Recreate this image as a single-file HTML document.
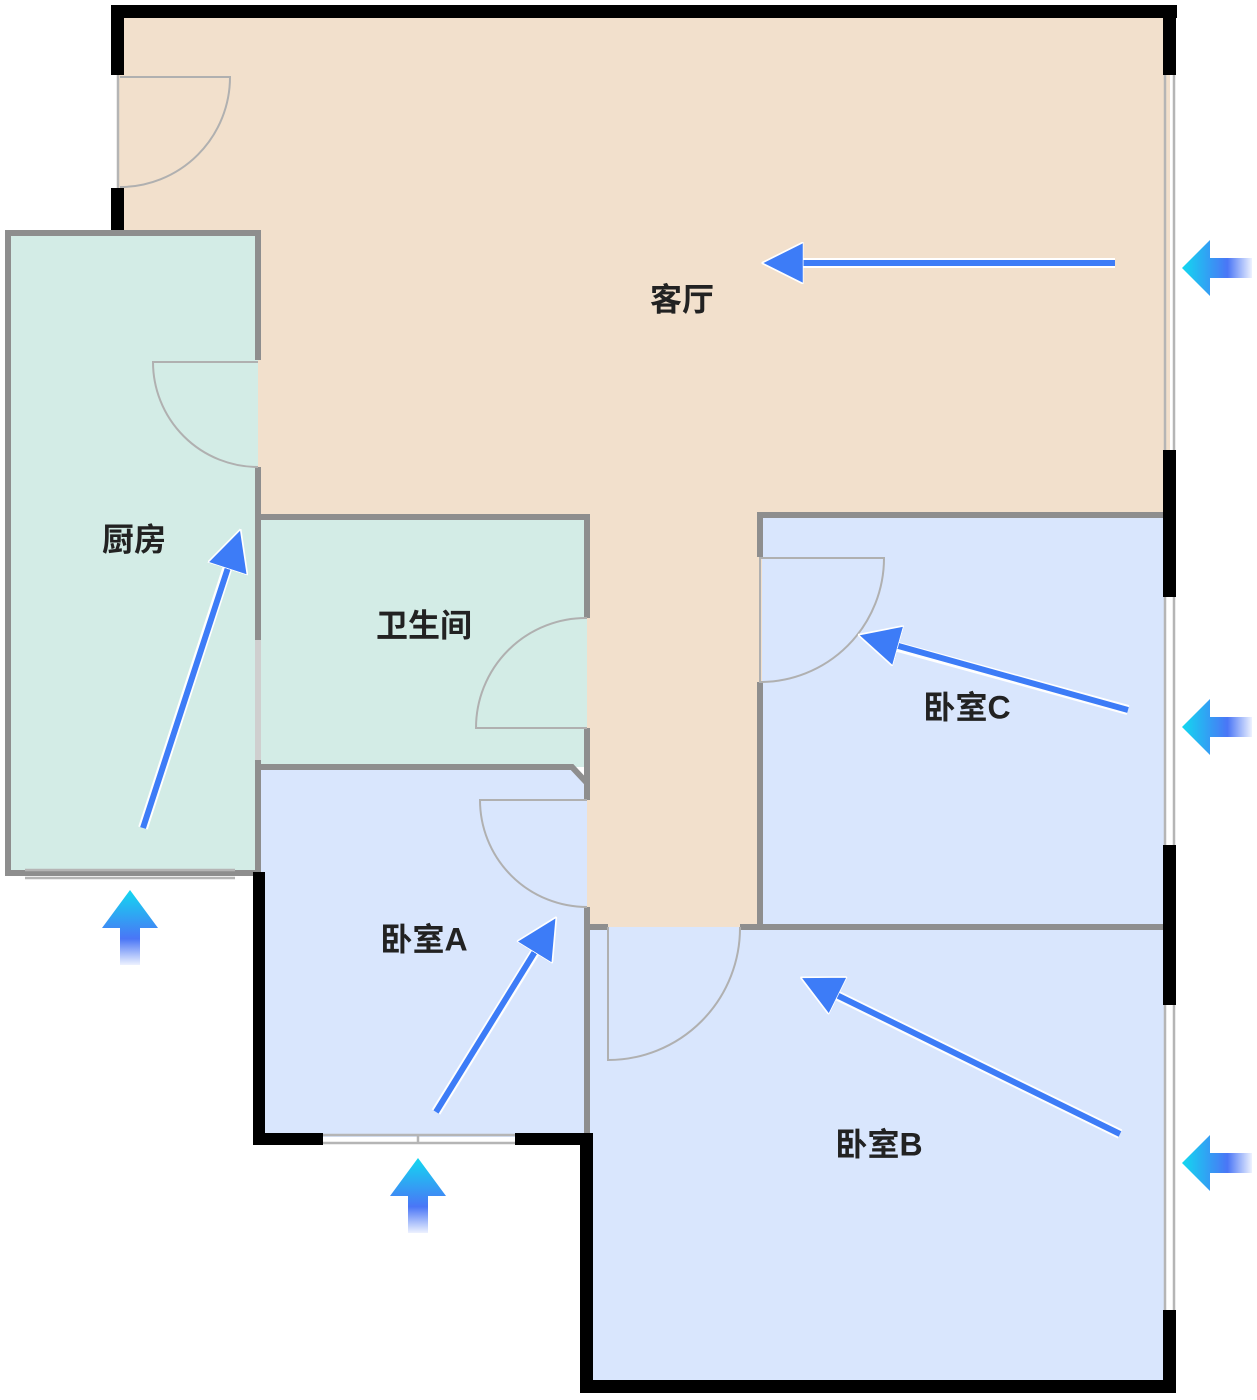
<!DOCTYPE html>
<html><head><meta charset="utf-8"><style>
html,body{margin:0;padding:0;background:#fff}
svg{display:block}
text{font-family:"Liberation Sans","Noto Sans CJK SC",sans-serif;font-size:32px;font-weight:600;fill:#222;text-anchor:middle;dominant-baseline:middle}
</style></head><body>
<svg width="1257" height="1400" viewBox="0 0 1257 1400" xmlns="http://www.w3.org/2000/svg">
<defs>
<linearGradient id="gh" x1="0" y1="0" x2="1" y2="0"><stop offset="0" stop-color="#12d8f0"/><stop offset="0.65" stop-color="#4a76f6"/><stop offset="1" stop-color="#4a76f6" stop-opacity="0.1"/></linearGradient>
<linearGradient id="gv" x1="0" y1="0" x2="0" y2="1"><stop offset="0" stop-color="#12d8f0"/><stop offset="0.65" stop-color="#4a76f6"/><stop offset="1" stop-color="#4a76f6" stop-opacity="0.1"/></linearGradient>
<marker id="ah" viewBox="0 0 10 10" refX="8" refY="5" markerWidth="7" markerHeight="7" orient="auto-start-reverse" markerUnits="strokeWidth"><path d="M0,0 L10,5 L0,10 Z" fill="#3d7cf7" stroke="#fff" stroke-width="0.4"/></marker>
<g id="hA"><path d="M0,28 L28,0 L28,18 L70,18 L70,38 L28,38 L28,56 Z" fill="url(#gh)"/></g>
</defs>
<rect x="117" y="12" width="1053" height="505" fill="#f2e0cc"/>
<rect x="585" y="515" width="177" height="412" fill="#f2e0cc"/>
<rect x="10" y="233" width="248" height="640" fill="#d3ece6"/>
<rect x="260" y="517" width="327" height="250" fill="#d3ece6"/>
<polygon points="260,767 572,767 587,783 587,1137 260,1137" fill="#d9e6fd"/>
<rect x="762" y="517" width="403" height="410" fill="#d9e6fd"/>
<rect x="587" y="927" width="578" height="458" fill="#d9e6fd"/>
<g stroke="#8e8e8e" stroke-width="6" fill="none">
<path d="M258,360 V233 H8 V873 H258 V640"/>
<path d="M258,467 V640"/>
<path d="M258,767 V873"/>
<path d="M258,517 H587 V618"/>
<path d="M587,728 V800"/>
<path d="M258,767 H572 L587,783"/>
<path d="M587,907 V1137"/>
<path d="M760,682 V927"/>
<path d="M760,557 V515 H1165"/>
<path d="M740,927 H1168"/>
<path d="M587,927 H608"/>
</g>
<path d="M258,640 V760" stroke="#cfcfcf" stroke-width="6"/>
<g fill="#000">
<rect x="111" y="5" width="1066" height="13"/>
<rect x="111" y="5" width="13" height="70"/>
<rect x="111" y="188" width="13" height="42"/>
<rect x="1163" y="5" width="13" height="70"/>
<rect x="1163" y="450" width="13" height="147"/>
<rect x="1163" y="845" width="13" height="160"/>
<rect x="1163" y="1310" width="13" height="83"/>
<rect x="580" y="1380" width="596" height="13"/>
<rect x="580" y="1137" width="13" height="256"/>
<rect x="253" y="872" width="12" height="273"/>
<rect x="253" y="1133" width="70" height="12"/>
<rect x="515" y="1133" width="78" height="12"/>
</g>
<g stroke="#b5b5b5" stroke-width="2.5" fill="none">
<path d="M1165,75 V450 M1174,75 V450"/>
<path d="M1165,597 V845 M1174,597 V845"/>
<path d="M1165,1005 V1310 M1174,1005 V1310"/>
<path d="M323,1135 H515 M323,1143 H515 M418,1135 V1143"/>
<path d="M25,870 H235 M25,878 H235"/>
<path d="M118,75 V188"/>
</g>
<g stroke="#b0b0b0" stroke-width="2" fill="none">
<path d="M120,77 H230 A110,110 0 0 1 120,187"/>
<path d="M258,362 H153 A105,105 0 0 0 258,467"/>
<path d="M587,728 H476 A110,110 0 0 1 587,618"/>
<path d="M587,800 H480 A107,107 0 0 0 587,907"/>
<path d="M760,558 H884 A124,124 0 0 1 760,682 Z"/>
<path d="M608,927 V1060 A132,132 0 0 0 740,927"/>
</g>
<text x="682" y="302">客厅</text>
<text x="134" y="542">厨房</text>
<text x="424" y="628">卫生间</text>
<text x="967" y="710">卧室C</text>
<text x="424" y="942">卧室A</text>
<text x="879" y="1147">卧室B</text>
<g stroke-linecap="butt">
<g stroke="#fff" stroke-width="10">
<line x1="1115" y1="263" x2="790" y2="263"/>
<line x1="143" y1="828" x2="230" y2="560"/>
<line x1="1128" y1="710" x2="887" y2="644"/>
<line x1="436" y1="1112" x2="540" y2="944"/>
<line x1="1120" y1="1134" x2="828" y2="991"/>
</g>
<g stroke="#3d7cf7" stroke-width="6">
<line x1="1115" y1="263" x2="770" y2="263" marker-end="url(#ah)"/>
<line x1="143" y1="828" x2="238" y2="537" marker-end="url(#ah)"/>
<line x1="1128" y1="710" x2="866" y2="637" marker-end="url(#ah)"/>
<line x1="436" y1="1112" x2="552" y2="924" marker-end="url(#ah)"/>
<line x1="1120" y1="1134" x2="808" y2="981" marker-end="url(#ah)"/>
</g>
</g>
<use href="#hA" x="1182" y="240"/>
<use href="#hA" x="1182" y="699"/>
<use href="#hA" x="1182" y="1135"/>
<path d="M102,928 L130,890 L158,928 L140,928 L140,965 L120,965 L120,928 Z" fill="url(#gv)"/>
<path d="M390,1196 L418,1158 L446,1196 L428,1196 L428,1233 L408,1233 L408,1196 Z" fill="url(#gv)"/>
</svg>
</body></html>
